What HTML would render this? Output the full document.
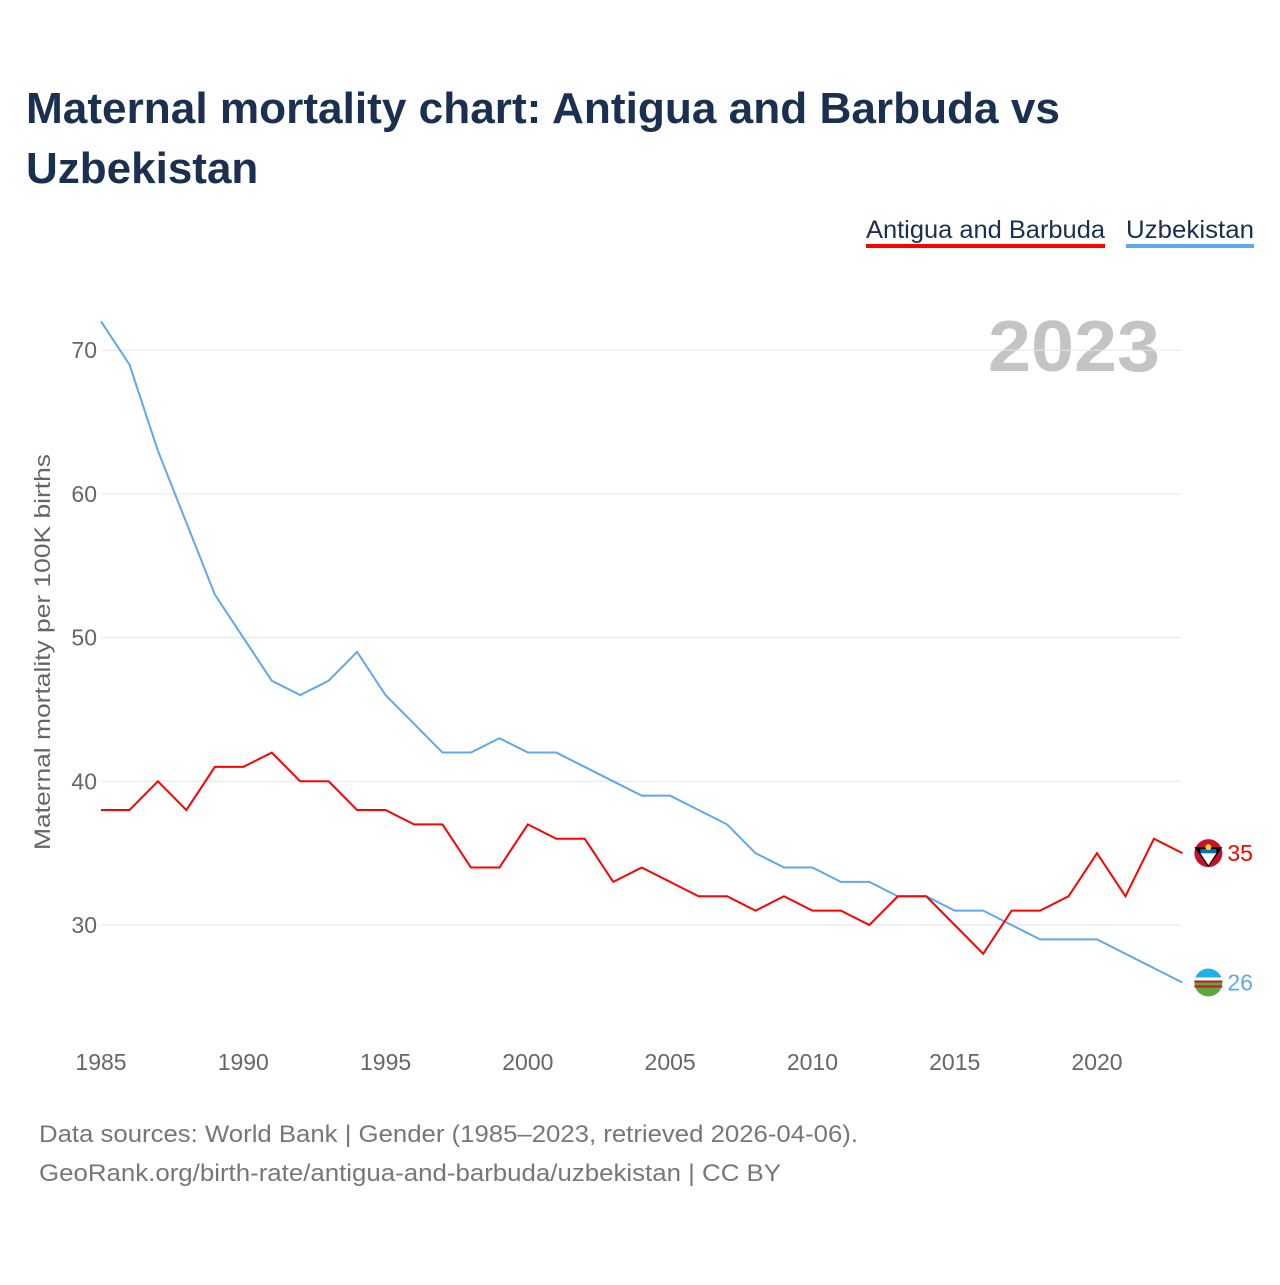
<!DOCTYPE html>
<html><head><meta charset="utf-8"><style>
body{margin:0;background:#fff;width:1280px;height:1280px;overflow:hidden;font-family:"Liberation Sans",sans-serif}
svg text{font-family:"Liberation Sans",sans-serif}
</style></head><body>
<svg id="chart" width="1280" height="1280" xmlns="http://www.w3.org/2000/svg">
<text x="26" y="123" font-size="44" font-weight="bold" fill="#1a3050" textLength="1034" lengthAdjust="spacingAndGlyphs">Maternal mortality chart: Antigua and Barbuda vs</text>
<text x="26" y="183" font-size="44" font-weight="bold" fill="#1a3050">Uzbekistan</text>
<g><text x="866" y="238" font-size="25" fill="#1a3050" textLength="239" lengthAdjust="spacingAndGlyphs">Antigua and Barbuda</text><rect x="866" y="244" width="239" height="4" fill="#ff0000"/></g>
<g><text x="1126" y="238" font-size="25" fill="#1a3050" textLength="128" lengthAdjust="spacingAndGlyphs">Uzbekistan</text><rect x="1126" y="244" width="128" height="4" fill="#5fa8ec"/></g>
<text x="1160" y="371" font-size="72" font-weight="bold" fill="#c4c4c4" text-anchor="end" textLength="172" lengthAdjust="spacingAndGlyphs">2023</text>
<text transform="translate(50,652) rotate(-90)" font-size="22" fill="#666" text-anchor="middle" textLength="396" lengthAdjust="spacingAndGlyphs">Maternal mortality per 100K births</text>
<g id="grid"></g><g id="lines"></g>
<text x="39" y="1142" font-size="24" fill="#777" textLength="819" lengthAdjust="spacingAndGlyphs">Data sources: World Bank | Gender (1985–2023, retrieved 2026-04-06).</text>
<text x="39" y="1181" font-size="24" fill="#777" textLength="742" lengthAdjust="spacingAndGlyphs">GeoRank.org/birth-rate/antigua-and-barbuda/uzbekistan | CC BY</text>
</svg>
<script>
const years=[];for(let y=1985;y<=2023;y++)years.push(y);
const antigua=[38,38,40,38,41,41,42,40,40,38,38,37,37,34,34,37,36,36,33,34,33,32,32,31,32,31,31,30,32,32,30,28,31,31,32,35,32,36,35];
const uzbekistan=[72,69,63,58,53,50,47,46,47,49,46,44,42,42,43,42,42,41,40,39,39,38,37,35,34,34,33,33,32,32,31,31,30,29,29,29,28,27,26];
const yTicks=[30,40,50,60,70];
const xTicks=[1985,1990,1995,2000,2005,2010,2015,2020];
const NS="http://www.w3.org/2000/svg";
const X=v=>101+(v-1985)*(1097-101)/35;
const Y=v=>925-(v-30)*14.37;
const grid=document.getElementById('grid'),lines=document.getElementById('lines');
function mk(tag,attrs,parent){const e=document.createElementNS(NS,tag);for(const k in attrs)e.setAttribute(k,attrs[k]);parent.appendChild(e);return e;}
yTicks.forEach(t=>{
 const l=mk('line',{x1:101,x2:1181,y1:Y(t),y2:Y(t),stroke:'#e6e6e6','stroke-width':1},grid);
 
 
 const tx=mk('text',{x:97,y:Y(t)+8,'font-size':23,fill:'#666','text-anchor':'end'},grid);tx.textContent=t;
 
 
});
xTicks.forEach(t=>{
 const tx=mk('text',{x:X(t),y:1070,'font-size':23,fill:'#666','text-anchor':'middle'},grid);tx.textContent=t;
 
 
});
function series(vals,color,name,flag){
 const p=mk('polyline',{points:vals.map((v,i)=>X(years[i])+','+Y(v)).join(' '),fill:'none',stroke:color,'stroke-width':2},lines);
 
 
 const last=vals[vals.length-1],cx=X(2023)+26,cy=Y(last);
 const g=mk('g',{},lines);
 
 
 if(flag==='ag'){
  mk('circle',{cx:cx,cy:cy,r:14,fill:'#c8102e'},g);
  mk('path',{d:`M${cx-14} ${cy-6} L${cx+14} ${cy-6} L${cx} ${cy+14}Z`,fill:'#000'},g);
  mk('path',{d:`M${cx-8} ${cy} L${cx+8} ${cy} L${cx} ${cy+12}Z`,fill:'#fff'},g);
  mk('rect',{x:cx-8,y:cy-4,width:16,height:4,fill:'#0072c6'},g);
  mk('circle',{cx:cx,cy:cy-6,r:3,fill:'#fcd116'},g);
 }else{
  mk('circle',{cx:cx,cy:cy,r:14,fill:'#5aa83c'},g);
  mk('path',{d:`M${cx-14} ${cy} A14 14 0 0 1 ${cx+14} ${cy}Z`,fill:'#fff'},g);
  mk('path',{d:`M${cx-13} ${cy-5} A14 14 0 0 1 ${cx+13} ${cy-5}Z`,fill:'#1eb1e7'},g);
  mk('rect',{x:cx-14,y:cy-2,width:28,height:2,fill:'#ce1126'},g);
  mk('rect',{x:cx-14,y:cy+3,width:28,height:2,fill:'#ce1126'},g);
 }
 const t=mk('text',{x:cx+19,y:cy+8,'font-size':23,fill:color},lines);t.textContent=last;
 
 
}
series(uzbekistan,'#5fa8ec','uzbekistan','uz');
series(antigua,'#ff0000','antigua','ag');
</script>
</body></html>
